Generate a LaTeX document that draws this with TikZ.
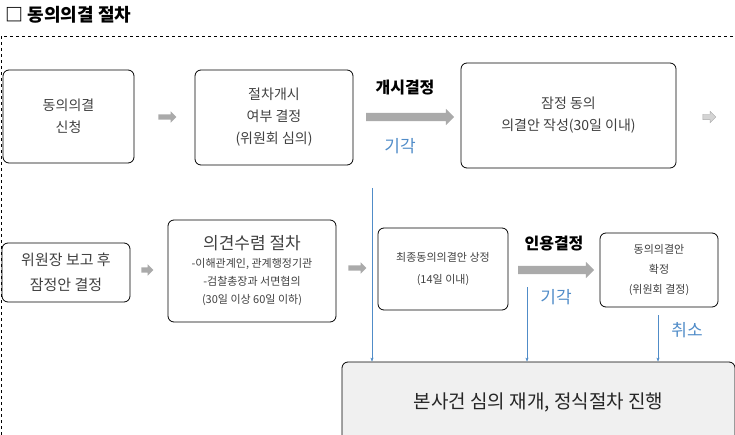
\documentclass[tikz,border=0pt]{standalone}
\usepackage{fontspec}
\setmainfont{Noto Sans CJK KR}
\usetikzlibrary{shapes.arrows,arrows.meta}
\definecolor{bl}{RGB}{80,140,200}
\definecolor{ga}{RGB}{170,170,170}
\begin{document}
\begin{tikzpicture}[x=1pt,y=-1pt,
  box/.style={draw,thick,rounded corners=6pt,align=center,inner sep=0pt,font=\fontsize{14}{22}\selectfont,text=black!75},
  garr/.style={single arrow,fill=ga,draw=none,minimum height=#1,single arrow head extend=3pt,inner sep=2.5pt},
  bline/.style={draw=bl,-{Stealth[length=4pt,width=3pt]}},
  blab/.style={text=bl,font=\fontsize{17}{17}\selectfont},
  klab/.style={font=\bfseries\fontsize{16}{16}\selectfont}]
\useasboundingbox (0,0) rectangle (735,435);
\node[anchor=west,font=\bfseries\fontsize{18}{18}\selectfont] (title) at (2,15) {□ 동의의결 절차};
\draw[dashed] (1,435) -- (1,36) -- (735,36);
\node[box,minimum width=131,minimum height=93] (a) at (68.5,116.5) {동의의결\\신청};
\node[box,minimum width=158,minimum height=95] (b) at (274,117.5) {절차개시\\여부 결정\\(위원회 심의)};
\node[box,minimum width=215,minimum height=105] (c) at (568.5,115.5) {잠정 동의\\의결안 작성(30일 이내)};
\node[box,minimum width=128,minimum height=59,font=\fontsize{15}{25}\selectfont] (d) at (66,272.5) {위원장 보고 후\\잠정안 결정};
\node[box,minimum width=168,minimum height=102,font=\fontsize{11}{18}\selectfont] (e) at (252,271) {{\fontsize{17}{20}\selectfont 의견수렴 절차}\\-이해관계인, 관계행정기관\\-검찰총장과 서면협의\\(30일 이상 60일 이하)};
\node[box,minimum width=130,minimum height=82,font=\fontsize{11}{22}\selectfont] (f) at (443,269) {최종동의의결안 상정\\(14일 이내)};
\node[box,minimum width=118,minimum height=74,font=\fontsize{11}{20}\selectfont] (g) at (659,270) {동의의결안\\확정\\(위원회 결정)};
\node[box,fill=black!6,minimum width=393,minimum height=80,font=\fontsize{19}{19}\selectfont,text=black!85] (h) at (538.5,402) {본사건 심의 재개, 정식절차 진행};
\node[garr=18] (ar1) at (166,117) {};
\node[garr=13,fill=ga!50,draw=ga] (ar2) at (708,117) {};
\node[garr=12] (ar3) at (146,270) {};
\node[garr=18] (ar4) at (356,268) {};
\node[garr=88,inner sep=4pt,single arrow head extend=4pt] (ar5) at (408,117) {};
\node[garr=76,inner sep=4pt,single arrow head extend=4pt] (ar6) at (554,270) {};
\node[klab] (l1) at (405,88) {개시결정};
\node[klab] (l2) at (554,244) {인용결정};
\node[blab] (l3) at (400,146) {기각};
\node[blab] (l4) at (556,297) {기각};
\node[blab] (l5) at (687,330) {취소};
\coordinate (s1) at (372,188);
\coordinate (s2) at (527,287);
\coordinate (s3) at (658,315);
\draw[bline] (s1) -- (s1 |- h.north);
\draw[bline] (s2) -- (s2 |- h.north);
\draw[bline] (s3) -- (s3 |- h.north);
\end{tikzpicture}
\end{document}
